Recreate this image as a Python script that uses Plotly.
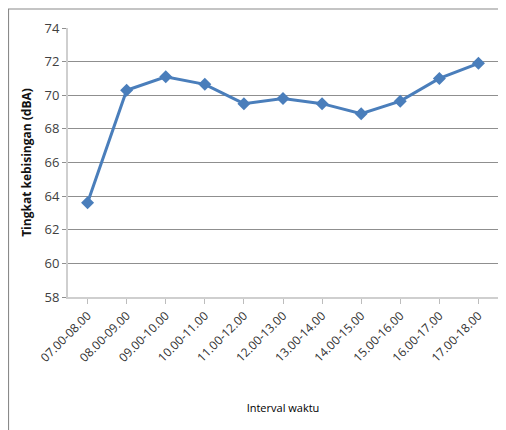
import plotly.graph_objects as go

categories = ["07.00-08.00", "08.00-09.00", "09.00-10.00", "10.00-11.00", "11.00-12.00",
              "12.00-13.00", "13.00-14.00", "14.00-15.00", "15.00-16.00", "16.00-17.00",
              "17.00-18.00"]
noise_dba = [63.6, 70.3, 71.1, 70.65, 69.5, 69.8, 69.5, 68.9, 69.65, 71.0, 71.9]
y_ticks = [58, 60, 62, 64, 66, 68, 70, 72, 74]

FONT = "Open Sans"

fig = go.Figure()
fig.add_trace(go.Scatter(
    x=categories, y=noise_dba, mode="lines+markers",
    line=dict(color="#4a7ebb", width=3),
    marker=dict(symbol="diamond", size=10, color="#4a7ebb"),
    showlegend=False, cliponaxis=False,
))

# outer chart border (page has an 8px body margin)
fig.add_shape(type="rect", xref="paper", yref="paper",
              x0=-0.1384, x1=1.03, y0=1.0706, y1=-0.55,
              line=dict(color="#8a8a8a", width=1.2), fillcolor="rgba(0,0,0,0)", layer="below")

fig.update_layout(
    width=498, height=422,
    margin=dict(l=60, r=8, t=20, b=133),
    paper_bgcolor="white", plot_bgcolor="white",
    font=dict(family=FONT, color="#404040"),
    xaxis=dict(
        type="category", range=[-0.5, 10.5],
        showgrid=False, showline=True, linecolor="#cfcfcf", linewidth=2,
        ticks="outside", ticklen=5, tickcolor="#bdbdbd", tickwidth=1,
        tickangle=-45, tickfont=dict(size=12, color="#333333", family=FONT),
        title=dict(text="Interval waktu", standoff=40,
                   font=dict(size=11, color="#000000", family=FONT)),
    ),
    yaxis=dict(
        range=[58, 74], tickvals=y_ticks, ticktext=[str(v) for v in y_ticks],
        showgrid=True, gridcolor="#8f8f8f", gridwidth=1,
        showline=True, linecolor="#cfcfcf", linewidth=2, zeroline=False,
        ticks="outside", ticklen=4, tickcolor="#8f8f8f",
        tickfont=dict(size=13, color="#404040", family=FONT),
        title=dict(text="<b>Tingkat kebisingan (dBA)</b>", standoff=10,
                   font=dict(size=12, color="#111111", family=FONT)),
    ),
)

fig.write_html("out.html")
